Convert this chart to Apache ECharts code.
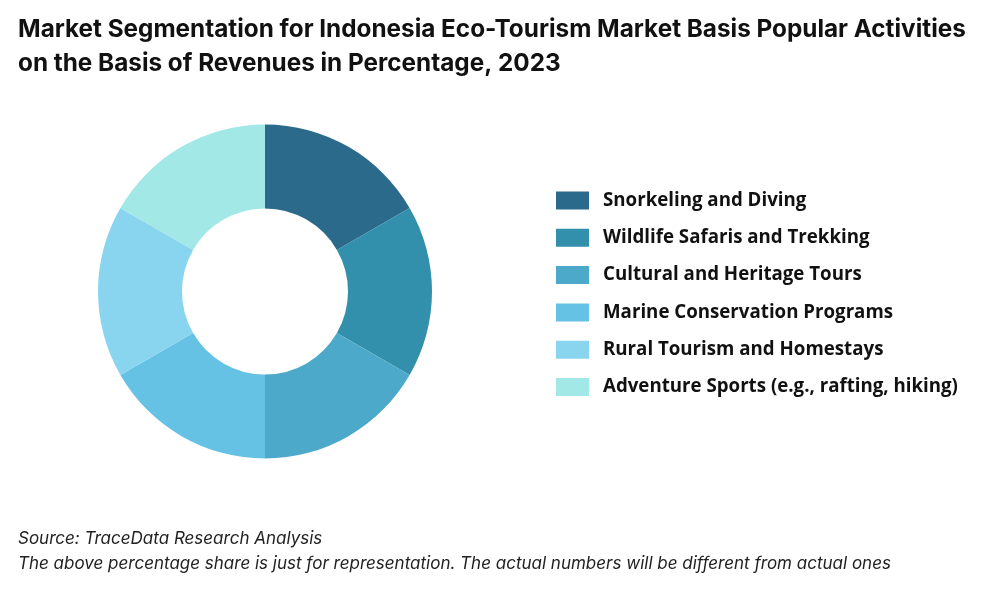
<!DOCTYPE html>
<html><head><meta charset="utf-8">
<script src="https://cdn.jsdelivr.net/npm/echarts@6/dist/echarts.min.js"></script>
<style>html,body{margin:0;padding:0;background:#fff}#c{width:1000px;height:600px}</style>
</head><body><div id="c"></div>
<script>
const categories = ["Snorkeling and Diving","Wildlife Safaris and Trekking","Cultural and Heritage Tours","Marine Conservation Programs","Rural Tourism and Homestays","Adventure Sports (e.g., rafting, hiking)"];
const values = [16.67,16.67,16.67,16.67,16.67,16.67];
const colors = ["#2B6A8A","#3390AC","#4DA9CA","#66C2E4","#89D5F0","#A1E8E6"];
const chart = echarts.init(document.getElementById('c'));
chart.setOption({
  backgroundColor:'#fff',
  animation:false,
  color: colors,
  title:[{
    text:"Market Segmentation for Indonesia Eco-Tourism Market Basis Popular Activities\non the Basis of Revenues in Percentage, 2023",
    left:18, top:13, padding:0,
    textStyle:{fontFamily:'Inter',fontWeight:'bold',fontSize:24.3,lineHeight:34,color:'#111'}
  },{
    text:"Source: TraceData Research Analysis\nThe above percentage share is just for representation. The actual numbers will be different from actual ones",
    left:18, top:526, padding:0,
    textStyle:{fontFamily:'Inter',fontStyle:'italic',fontWeight:'normal',fontSize:17,lineHeight:25,color:'#222'}
  }],
  legend:{
    orient:'vertical', left:551, top:186,
    itemWidth:33, itemHeight:18, itemGap:18.3,
    icon:'rect',
    textStyle:{fontFamily:'Open Sans',fontWeight:'bold',fontSize:18.7,lineHeight:18,color:'#111',padding:[0,0,0,9]},
    data:categories
  },
  series:[{
    type:'pie',
    center:[265,291.5],
    radius:[83,167],
    startAngle:90,
    clockwise:true,
    label:{show:false},
    labelLine:{show:false},
    emphasis:{disabled:true},
    itemStyle:{borderWidth:0},
    data:categories.map((n,i)=>({name:n,value:values[i]}))
  }]
});
</script></body></html>
